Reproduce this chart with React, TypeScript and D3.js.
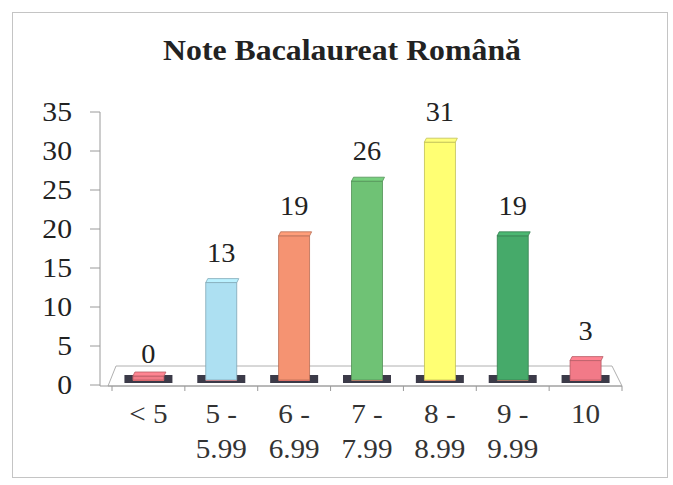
import React from "react";
import * as d3 from "d3";

// chart data
const categories = ["< 5", "5 - 5.99", "6 - 6.99", "7 - 7.99", "8 - 8.99", "9 - 9.99", "10"];
const values = [0, 13, 19, 26, 31, 19, 3];
const yTicks = [0, 5, 10, 15, 20, 25, 30, 35];
const barColors = ["#f27c88", "#ade0f2", "#f59372", "#6fc275", "#ffff73", "#46aa6a", "#f27a88"];

const font = "'Liberation Serif', 'Times New Roman', serif";

export default function App() {
  const width = 673;
  const height = 485;

  const x = d3.scaleBand<string>().domain(categories).range([112, 622]).padding(0);
  const y = d3.scaleLinear().domain([0, 35]).range([385, 112]);

  const barW = 31;
  const barBottom = 380;
  const depth = 4;

  const splitLabel = (c: string) => {
    const parts = c.split(" - ");
    return parts.length > 1 ? [parts[0] + " -", parts[1]] : [c];
  };

  return (
    <svg
      width={width}
      height={height}
      style={{ position: "absolute", left: 0, top: 0, background: "#fff" }}
      fontFamily={font}
    >
      {/* outer frame */}
      <rect x={12.5} y={12.5} width={655} height={465} fill="none" stroke="#c4c4c4" strokeWidth={1} />

      {/* title, slightly stretched like the scan */}
      <text
        transform="translate(342,60) scale(1.06,1)"
        textAnchor="middle"
        fontSize={30}
        fontWeight="bold"
        fill="#222"
      >
        Note Bacalaureat Română
      </text>

      {/* floor */}
      <polygon
        points="108,386 622,386 612,366 116,366"
        fill="none"
        stroke="#b0b0b0"
        strokeWidth={1}
      />
      <line x1={100} x2={622} y1={386} y2={386} stroke="#9a9a9a" />
      {categories.map((c, i) => (
        <line key={"xt" + i} x1={x(c)!} x2={x(c)!} y1={386} y2={391} stroke="#9a9a9a" />
      ))}
      <line x1={622} x2={622} y1={386} y2={391} stroke="#9a9a9a" />

      {/* y axis */}
      <line x1={100} x2={100} y1={112} y2={386} stroke="#9a9a9a" />
      {yTicks.map((t) => (
        <g key={"yt" + t}>
          <line x1={90} x2={100} y1={y(t)} y2={y(t)} stroke="#9a9a9a" />
          <text
            transform={`translate(72,${y(t)}) scale(1.1,1)`}
            dy="0.34em"
            textAnchor="end"
            fontSize={27}
            fill="#222"
          >
            {t}
          </text>
        </g>
      ))}

      {/* bars */}
      {categories.map((c, i) => {
        const cx = x(c)! + x.bandwidth() / 2;
        const v = values[i];
        const top = Math.min(y(v) - 1, barBottom - depth);
        const col = barColors[i];
        const dark = d3.color(col)!.darker(0.8).formatHex();
        const light = d3.color(col)!.brighter(0.2).formatHex();
        const l = cx - barW / 2;
        const r = cx + barW / 2;
        return (
          <g key={"bar" + i}>
            {/* base shadow */}
            <rect x={cx - 24} y={375} width={48} height={8} fill="#3b3a48" />
            <rect x={l} y={376} width={barW} height={5} fill="#ef6f70" />
            {/* front face */}
            {barBottom - top > 0 && (
              <rect x={l} y={top} width={barW} height={barBottom - top} fill={col} stroke={dark} strokeWidth={0.8} />
            )}
            {/* top face */}
            <polygon
              points={`${l},${top} ${r},${top} ${r + 2},${top - depth} ${l + 2},${top - depth}`}
              fill={light}
              stroke={dark}
              strokeWidth={0.8}
            />
            <text
              transform={`translate(${cx},${y(v) - 22}) scale(1.05,1)`}
              textAnchor="middle"
              fontSize={27}
              fill="#222"
            >
              {v}
            </text>
          </g>
        );
      })}

      {/* category labels */}
      {categories.map((c, i) => {
        const cx = x(c)! + x.bandwidth() / 2;
        return splitLabel(c).map((line, j) => (
          <text
            key={"xl" + i + "-" + j}
            transform={`translate(${cx},${423 + j * 35}) scale(1.08,1)`}
            textAnchor="middle"
            fontSize={27}
            fill="#333"
          >
            {line}
          </text>
        ));
      })}
    </svg>
  );
}
